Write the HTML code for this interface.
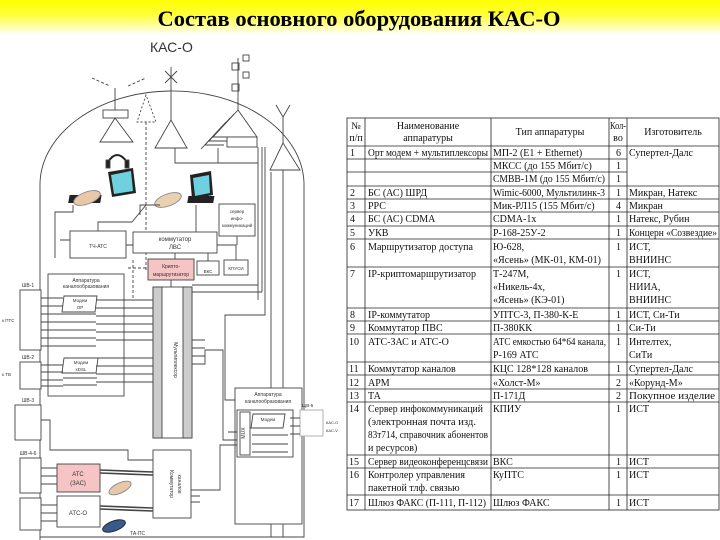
<!DOCTYPE html>
<html><head><meta charset="utf-8"><style>
html,body{margin:0;padding:0;background:#fff}
svg{display:block}
.t{font-family:"Liberation Serif",serif;font-size:10px;fill:#111}
.s{font-family:"Liberation Sans",sans-serif;fill:#333}
</style></head><body>
<svg width="720" height="540" viewBox="0 0 720 540" xmlns="http://www.w3.org/2000/svg">
<defs><linearGradient id="g" x1="0" y1="0" x2="0" y2="1"><stop offset="0" stop-color="#ffff00"/><stop offset="0.45" stop-color="#ffff3a"/><stop offset="1" stop-color="#fffee8"/></linearGradient></defs>
<rect x="0" y="0" width="720" height="33" fill="url(#g)"/>
<text x="359" y="26" text-anchor="middle" style="font-family:'Liberation Serif',serif;font-weight:bold;font-size:22.5px" fill="#000">Состав основного оборудования КАС-О</text>

<!-- ===== DIAGRAM ===== -->
<g stroke="#444" fill="none" stroke-width="0.9">
<text x="150" y="52" class="s" style="font-size:14px" stroke="none" fill="#222">КАС-О</text>
<path d="M40,540 L40,187 A132,94 0 0 1 304,183 L304,537 L40,537"/>
<line x1="115" y1="110" x2="115" y2="88"/>
<path d="M92,78 l18,8 M128,86 l18,-8" stroke-dasharray="3,2"/>
<rect x="103" y="110" width="25" height="8" fill="#fff"/>
<path d="M115,118 L100,142 L133,142 Z" fill="#fff"/>
<path d="M146,95 L137,122 L156,122 Z" stroke-dasharray="2,2"/>
<line x1="146" y1="122" x2="146" y2="270" stroke-dasharray="3,2"/>
<line x1="171" y1="67" x2="171" y2="120"/>
<path d="M165,71 l12,12 M177,71 l-12,12"/>
<path d="M171,120 L155,148 L187,148 Z" fill="#fff"/>
<line x1="238" y1="58" x2="238" y2="110"/>
<rect x="232" y="63" width="7" height="7"/><rect x="232" y="84" width="7" height="7"/>
<rect x="243" y="55" width="6" height="6"/><rect x="243" y="72" width="6" height="6"/>
<path d="M238,110 L213,137 L257,137 Z" fill="#fff"/>
<path d="M234,114 L209,141 L227,141 M230,118 L205,145 L224,145 M226,122 L201,149"/>
<rect x="227" y="137" width="30" height="10" fill="#fff"/>
<path d="M276,105 L283,117 L290,105 M283,117 L283,143"/>
<path d="M283,143 L270,170 L300,170 Z" fill="#fff"/>
<path d="M283,170 L283,537 M271,172 L271,537 M262,147 L262,292 M258,147 L258,300 M218,148 L218,163 L258,163 M175,148 L175,163 L220,163"/>
<path d="M265,147 L265,315 L225,315 L225,400 L235,400"/>
<g fill="#222" stroke="none">
<path d="M108,172 L133,168 L136,193 L112,197 Z"/><rect x="104" y="195" width="32" height="8" transform="skewX(-10)"/>
<path d="M190,175 L211,171 L213,195 L192,199 Z"/><rect x="223" y="196" width="26" height="7" transform="skewX(-10)"/>
</g>
<path d="M111,175 L131,171 L133,191 L114,194 Z" fill="#6fd0e0" stroke="none"/>
<path d="M193,178 L209,175 L210,193 L195,196 Z" fill="#6fd0e0" stroke="none"/>
<path d="M108,162 Q117,148 127,162" stroke="#222" stroke-width="2"/>
<rect x="106" y="160" width="4" height="8" fill="#222"/><rect x="125" y="160" width="4" height="8" fill="#222"/>
<ellipse cx="87" cy="198" rx="14" ry="6" fill="#e8c8a8" stroke="#888" transform="rotate(-20 87 198)"/>
<ellipse cx="168" cy="200" rx="14" ry="6" fill="#e8d0b0" stroke="#888" transform="rotate(-20 168 200)"/>
<rect x="70" y="231" width="56" height="27" fill="#fff"/>
<text x="98" y="248" class="s" style="font-size:5px" stroke="none" text-anchor="middle">ТЧ-АТС</text>
<rect x="133" y="232" width="84" height="21" fill="#fff"/>
<text x="175" y="241" class="s" style="font-size:6px" stroke="none" text-anchor="middle">коммутатор</text>
<text x="175" y="249" class="s" style="font-size:6px" stroke="none" text-anchor="middle">ЛВС</text>
<rect x="219" y="204" width="36" height="32" fill="#fff"/>
<text x="237" y="213" class="s" style="font-size:4.5px" stroke="none" text-anchor="middle">сервер</text>
<text x="237" y="220" class="s" style="font-size:4.5px" stroke="none" text-anchor="middle">инфо-</text>
<text x="237" y="227" class="s" style="font-size:4.5px" stroke="none" text-anchor="middle">коммуникаций</text>
<rect x="148" y="259" width="46" height="21" fill="#f6c4c4"/>
<text x="171" y="268" class="s" style="font-size:5px" stroke="none" text-anchor="middle">Крипто-</text>
<text x="171" y="276" class="s" style="font-size:5px" stroke="none" text-anchor="middle">маршрутизатор</text>
<rect x="197" y="261" width="22" height="14" fill="#fff"/>
<text x="208" y="273" class="s" style="font-size:4.5px" stroke="none" text-anchor="middle">ВКС</text>
<rect x="224" y="260" width="24" height="15" fill="#fff"/>
<text x="236" y="270" class="s" style="font-size:4.5px" stroke="none" text-anchor="middle">КПУСИ</text>
<path d="M55,258 L55,212 L73,212 L73,205 M60,240 L70,240 M98,231 L98,222 L132,222 L146,205 M126,245 L133,245 M140,215 L140,205 L160,205 M196,232 L196,205 M175,253 L175,259 M208,253 L208,261 M217,245 L236,245 L236,260 M237,236 L237,245 M171,280 L171,290 M192,285 L258,285 M192,292 L262,292"/>
<path d="M133,260 L133,300 M128,268 L146,268" stroke-dasharray="3,2"/>
<rect x="48" y="274" width="76" height="122" fill="#fff"/>
<text x="86" y="282" class="s" style="font-size:5px" stroke="none" text-anchor="middle">Аппаратура</text>
<text x="86" y="288" class="s" style="font-size:5px" stroke="none" text-anchor="middle">каналообразования</text>
<path d="M64,296 L97,296 L95,312 L62,312 Z M63,314 L96,314 M63,322 L96,322 M63,330 L96,330 M63,338 L96,338 M63,346 L96,346 M64,358 L98,358 L96,373 L62,373 Z M63,378 L97,378 M63,385 L97,385"/>
<text x="80" y="302" class="s" style="font-size:4.5px" stroke="none" text-anchor="middle">Модем</text>
<text x="80" y="309" class="s" style="font-size:4.5px" stroke="none" text-anchor="middle">ОР</text>
<text x="81" y="364" class="s" style="font-size:4.5px" stroke="none" text-anchor="middle">Модем</text>
<text x="81" y="371" class="s" style="font-size:4.5px" stroke="none" text-anchor="middle">xDSL</text>
<path d="M41,298 L63,298 M41,306 L63,306 M41,314 L63,314 M41,322 L63,322 M41,330 L63,330 M41,338 L63,338 M41,346 L63,346 M41,365 L63,365 M41,372 L63,372 M41,380 L63,380 M41,386 L63,386"/>
<path d="M96,300 L153,300 M96,308 L153,308 M96,316 L153,316 M96,324 L153,324 M96,332 L153,332 M96,340 L153,340 M96,358 L153,358 M96,366 L153,366 M96,374 L153,374 M96,382 L153,382"/>
<rect x="20" y="290" width="21" height="60" fill="#fff"/>
<rect x="20" y="362" width="21" height="27" fill="#fff"/>
<rect x="15" y="405" width="26" height="35" fill="#fff"/>
<rect x="20" y="458" width="21" height="35" fill="#fff"/>
<rect x="20" y="498" width="21" height="32" fill="#fff"/>
<text x="28" y="287" class="s" style="font-size:5px" stroke="none" text-anchor="middle">ШВ-1</text>
<text x="28" y="359" class="s" style="font-size:5px" stroke="none" text-anchor="middle">ШВ-2</text>
<text x="28" y="402" class="s" style="font-size:5px" stroke="none" text-anchor="middle">ШВ-3</text>
<text x="28" y="455" class="s" style="font-size:5px" stroke="none" text-anchor="middle">ШВ-4-6</text>
<text x="2" y="322" class="s" style="font-size:4.5px" stroke="none">к ПТС</text>
<text x="2" y="376" class="s" style="font-size:4.5px" stroke="none">к ТВ</text>
<path d="M41,420 L50,420 L50,450 L128,450 L128,460 L153,460"/>
<rect x="153" y="287" width="39" height="151" fill="#fff"/>
<rect x="153" y="287" width="9" height="151" fill="#ccc"/>
<rect x="183" y="287" width="9" height="151" fill="#ccc"/>
<text x="174" y="360" class="s" style="font-size:5px" stroke="none" text-anchor="middle" transform="rotate(90 174 360)">Мультиплексор</text>
<path d="M192,340 L205,340 M192,348 L205,348 M192,356 L205,356 M192,364 L205,364 L205,350 L223,350 L223,440 L228,440"/>
<rect x="235" y="388" width="67" height="136" fill="#fff"/>
<text x="268" y="396" class="s" style="font-size:5px" stroke="none" text-anchor="middle">Аппаратура</text>
<text x="268" y="403" class="s" style="font-size:5px" stroke="none" text-anchor="middle">каналообразования</text>
<rect x="237" y="410" width="56" height="47" fill="#fff"/>
<rect x="240" y="412" width="10" height="43" fill="#fff"/>
<text x="245" y="433" class="s" style="font-size:5px" stroke="none" text-anchor="middle" transform="rotate(-90 245 433)">MUX</text>
<path d="M253,414 L285,414 L283,428 L251,428 Z M252,435 L288,435 M252,444 L288,444 M252,452 L288,452"/>
<text x="268" y="421" class="s" style="font-size:4.5px" stroke="none" text-anchor="middle">Модем</text>
<rect x="300" y="410" width="23" height="26" fill="#fff" stroke="#aaa"/>
<text x="302" y="407" class="s" style="font-size:4.5px" stroke="none">ЩВ-6</text>
<text x="326" y="424" class="s" style="font-size:4px" stroke="none">КАС-О</text>
<text x="326" y="432" class="s" style="font-size:4px" stroke="none">КАС-V</text>
<path d="M290,418 L300,418 M290,426 L300,426 M290,434 L300,434"/>
<path d="M228,432 L237,432 M225,440 L237,440"/>
<rect x="153" y="450" width="38" height="68" fill="#fff"/>
<text x="170" y="484" class="s" style="font-size:5px" stroke="none" text-anchor="middle" transform="rotate(90 170 484)">Коммутатор</text>
<text x="178" y="484" class="s" style="font-size:5px" stroke="none" text-anchor="middle" transform="rotate(90 178 484)">каналов</text>
<path d="M191,490 L220,490 L220,445 L237,445 M191,496 L200,496 M191,502 L200,502"/>
<rect x="57" y="464" width="43" height="28" fill="#f6c4c4"/>
<text x="78" y="476" class="s" style="font-size:6px" stroke="none" text-anchor="middle">АТС</text>
<text x="78" y="485" class="s" style="font-size:6px" stroke="none" text-anchor="middle">(ЗАС)</text>
<rect x="57" y="496" width="43" height="31" fill="#fff"/>
<text x="78" y="515" class="s" style="font-size:6px" stroke="none" text-anchor="middle">АТС-О</text>
<path d="M41,468 L57,468 M41,476 L57,476 M41,484 L57,484 M41,505 L57,505 M41,513 L57,513 M41,521 L57,521"/>
<path d="M100,470 L153,472 M100,473 L153,475 M100,506 L153,508 M100,509 L153,511" stroke-width="1.6"/>
<ellipse cx="120" cy="488" rx="12" ry="5" fill="#e8c8a8" stroke="#888" transform="rotate(-25 120 488)"/>
<ellipse cx="114" cy="526" rx="12" ry="5" fill="#3a5a8a" stroke="#223" transform="rotate(-20 114 526)"/>
<text x="130" y="535" class="s" style="font-size:5px" stroke="none">ТА-ПС</text>
</g>

<!-- ===== TABLE ===== -->
<g stroke="#222" stroke-width="0.8" fill="none">
<rect x="347" y="118" width="372" height="392"/>
<path d="M365,118 V510 M491,118 V510 M609,118 V510 M627,118 V510"/>
<path d="M347,146 H719 M347,159 H627 M347,172 H627 M347,186 H719 M347,199 H719 M347,212 H719 M347,226 H719 M347,239 H719 M347,267 H719 M347,308 H719 M347,321 H719 M347,334 H719 M347,362 H719 M347,375 H719 M347,389 H719 M347,402 H719 M347,455 H719 M347,468 H719 M347,495 H719"/>
</g>
<g class="t">
<text x="356" y="129" text-anchor="middle">№</text><text x="356" y="141" text-anchor="middle">п/п</text>
<text x="428" y="129" text-anchor="middle">Наименование</text><text x="428" y="141" text-anchor="middle">аппаратуры</text>
<text x="550" y="135" text-anchor="middle">Тип аппаратуры</text>
<text x="618" y="129" text-anchor="middle" textLength="16" lengthAdjust="spacingAndGlyphs">Кол-</text><text x="618" y="141" text-anchor="middle">во</text>
<text x="673" y="135" text-anchor="middle">Изготовитель</text>
</g>
<g class="t">
<text x="350" y="156">1</text><text x="368" y="156" textLength="120" lengthAdjust="spacingAndGlyphs">Орт модем + мультиплексоры</text><text x="493" y="156">МП-2 (Е1 + Ethernet)</text><text x="616" y="156">6</text><text x="629" y="156">Супертел-Далс</text>
<text x="493" y="169">МКСС (до 155 Мбит/с)</text><text x="616" y="169">1</text>
<text x="493" y="182" textLength="112" lengthAdjust="spacingAndGlyphs">СМВВ-1М (до 155 Мбит/с)</text><text x="616" y="182">1</text>
<text x="350" y="196">2</text><text x="368" y="196">БС (АС) ШРД</text><text x="493" y="196" textLength="112" lengthAdjust="spacingAndGlyphs">Wimic-6000, Мультилинк-3</text><text x="616" y="196">1</text><text x="629" y="196">Микран, Натекс</text>
<text x="350" y="209">3</text><text x="368" y="209">РРС</text><text x="493" y="209">Мик-РЛ15 (155 Мбит/с)</text><text x="616" y="209">4</text><text x="629" y="209">Микран</text>
<text x="350" y="222">4</text><text x="368" y="222">БС (АС) CDMA</text><text x="493" y="222">CDMA-1x</text><text x="616" y="222">1</text><text x="629" y="222">Натекс, Рубин</text>
<text x="350" y="236">5</text><text x="368" y="236">УКВ</text><text x="493" y="236">Р-168-25У-2</text><text x="616" y="236">1</text><text x="629" y="236" textLength="88" lengthAdjust="spacingAndGlyphs">Концерн «Созвездие»</text>
<text x="350" y="250">6</text><text x="368" y="250" textLength="105" lengthAdjust="spacingAndGlyphs">Маршрутизатор доступа</text><text x="493" y="250">Ю-628,</text><text x="616" y="250">1</text><text x="629" y="250">ИСТ,</text>
<text x="493" y="263" textLength="108" lengthAdjust="spacingAndGlyphs">«Ясень» (МК-01, КМ-01)</text><text x="629" y="263">ВНИИНС</text>
<text x="350" y="277">7</text><text x="368" y="277" textLength="108" lengthAdjust="spacingAndGlyphs">IP-криптомаршрутизатор</text><text x="493" y="277">Т-247М,</text><text x="616" y="277">1</text><text x="629" y="277">ИСТ,</text>
<text x="493" y="290">«Никель-4х,</text><text x="629" y="290">НИИА,</text>
<text x="493" y="303">«Ясень» (КЭ-01)</text><text x="629" y="303">ВНИИНС</text>
<text x="350" y="318">8</text><text x="368" y="318">IP-коммутатор</text><text x="493" y="318">УПТС-3, П-380-К-Е</text><text x="616" y="318">1</text><text x="629" y="318">ИСТ, Си-Ти</text>
<text x="350" y="331">9</text><text x="368" y="331">Коммутатор ПВС</text><text x="493" y="331">П-380КК</text><text x="616" y="331">1</text><text x="629" y="331">Си-Ти</text>
<text x="349" y="345">10</text><text x="368" y="345">АТС-ЗАС и АТС-О</text><text x="493" y="345" textLength="113" lengthAdjust="spacingAndGlyphs">АТС емкостью 64*64 канала,</text><text x="616" y="345">1</text><text x="629" y="345">Интелтех,</text>
<text x="493" y="358">Р-169 АТС</text><text x="629" y="358">СиТи</text>
<text x="349" y="372">11</text><text x="368" y="372">Коммутатор каналов</text><text x="493" y="372" textLength="95" lengthAdjust="spacingAndGlyphs">КЦС 128*128 каналов</text><text x="616" y="372">1</text><text x="629" y="372">Супертел-Далс</text>
<text x="349" y="386">12</text><text x="368" y="386">АРМ</text><text x="493" y="386">«Холст-М»</text><text x="616" y="386">2</text><text x="629" y="386">«Корунд-М»</text>
<text x="349" y="399">13</text><text x="368" y="399">ТА</text><text x="493" y="399">П-171Д</text><text x="616" y="399">2</text><text x="629" y="399" textLength="86" lengthAdjust="spacingAndGlyphs">Покупное изделие</text>
<text x="349" y="412">14</text><text x="368" y="412" textLength="115" lengthAdjust="spacingAndGlyphs">Сервер инфокоммуникаций</text><text x="493" y="412">КПИУ</text><text x="616" y="412">1</text><text x="629" y="412">ИСТ</text>
<text x="368" y="425" textLength="108" lengthAdjust="spacingAndGlyphs">(электронная почта изд.</text>
<text x="368" y="438" textLength="120" lengthAdjust="spacingAndGlyphs">83т714, справочник абонентов</text>
<text x="368" y="451">и ресурсов)</text>
<text x="349" y="465">15</text><text x="368" y="465" textLength="120" lengthAdjust="spacingAndGlyphs">Сервер видеоконференцсвязи</text><text x="493" y="465">ВКС</text><text x="616" y="465">1</text><text x="629" y="465">ИСТ</text>
<text x="349" y="478">16</text><text x="368" y="478">Контролер управления</text><text x="493" y="478">КуПТС</text><text x="616" y="478">1</text><text x="629" y="478">ИСТ</text>
<text x="368" y="491">пакетной тлф. связью</text>
<text x="349" y="506">17</text><text x="368" y="506" textLength="118" lengthAdjust="spacingAndGlyphs">Шлюз ФАКС (П-111, П-112)</text><text x="493" y="506">Шлюз ФАКС</text><text x="616" y="506">1</text><text x="629" y="506">ИСТ</text>
</g>
</svg>
</body></html>
